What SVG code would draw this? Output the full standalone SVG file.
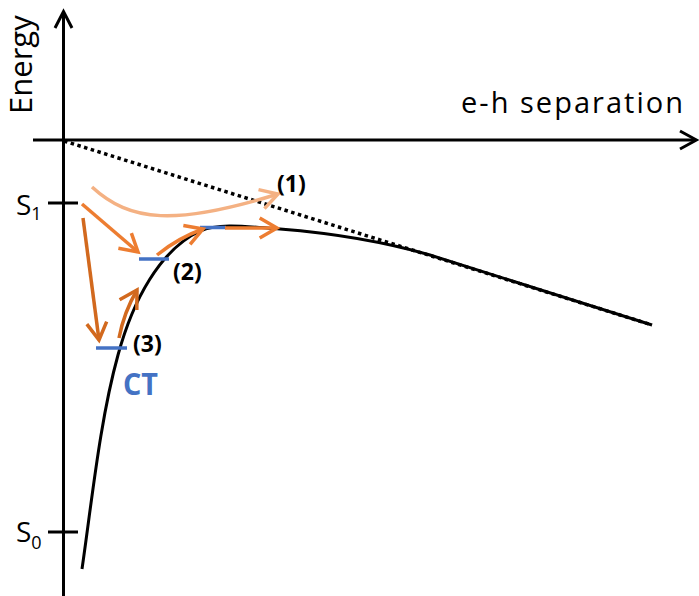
<svg xmlns="http://www.w3.org/2000/svg" width="699" height="596" viewBox="0 0 699 596">
<style>
.ax{stroke:#000;stroke-width:3;fill:none}
.lbl{font-family:"Open Sans","Liberation Sans",sans-serif;fill:#000}
.num{font-family:"Open Sans","Liberation Sans",sans-serif;font-weight:bold;font-size:23px;fill:#000}
.lvl{stroke:#4472C4;stroke-width:3.5;fill:none}
.arr{fill:none;stroke-width:3.5}
.peach{stroke:#F4B183}
.orange{stroke:#ED7D31}
.dark{stroke:#D2691E}
</style>
<defs>
<marker id="mPeach" markerUnits="userSpaceOnUse" orient="auto" markerWidth="30" markerHeight="30" refX="0" refY="0" overflow="visible">
<path d="M-17.3,-10 L0,0 L-17.3,10" fill="none" stroke="#F4B183" stroke-width="3.5"/>
</marker>
<marker id="mOrange" markerUnits="userSpaceOnUse" orient="auto" markerWidth="30" markerHeight="30" refX="0" refY="0" overflow="visible">
<path d="M-17.3,-10 L0,0 L-17.3,10" fill="none" stroke="#ED7D31" stroke-width="3.5"/>
</marker>
<marker id="mDark" markerUnits="userSpaceOnUse" orient="auto" markerWidth="30" markerHeight="30" refX="0" refY="0" overflow="visible">
<path d="M-17.3,-10 L0,0 L-17.3,10" fill="none" stroke="#D2691E" stroke-width="3.5"/>
</marker>
</defs>
<rect width="699" height="596" fill="#fff"/>
<g id="axes">
<path class="ax" d="M63.5,596 L63.5,12"/>
<path class="ax" d="M55,28 L63.5,11.5 L72,28"/>
<path class="ax" d="M33,140 L695,140"/>
<path class="ax" d="M680,131 L696.5,140 L680,149"/>
<path class="ax" d="M48,203 L78,203"/>
<path class="ax" d="M48,532 L78,532"/>
<text class="lbl" font-size="31" transform="translate(32,114) rotate(-90)">Energy</text>
<text class="lbl" font-size="29" x="461" y="113" textLength="222" lengthAdjust="spacing">e-h separation</text>
</g>
<g id="s1"><text class="lbl" font-size="28" x="16" y="215">S<tspan font-size="18" dy="5">1</tspan></text></g>
<g id="s0"><text class="lbl" font-size="28" x="16" y="542">S<tspan font-size="18" dy="7">0</tspan></text></g>
<g id="curves">
<path d="M82,569 C92,500 100,420 118,355 C133,300 160,250 200,231 C220,222.5 250,227 280,229 C330,233 385,242 430,255 L652,325" fill="none" stroke="#000" stroke-width="3"/>
<path d="M64,141 L652,325" fill="none" stroke="#000" stroke-width="3.5" stroke-dasharray="3.5 3.5"/>
</g>
<g id="levels">
<path class="lvl" d="M96,348 L127,348"/>
<path class="lvl" d="M139,259 L169,259"/>
<path class="lvl" d="M200,227.5 L226,227.5"/>
</g>
<g id="connectors">
<path class="arr peach" d="M92,187 C130,222 175,226 278,194" marker-end="url(#mPeach)"/>
<path class="arr orange" d="M82,204 L138,252" marker-end="url(#mOrange)"/>
<path class="arr dark" d="M83,218 L99,340" marker-end="url(#mDark)"/>
<path class="arr dark" d="M119,338 Q124,312 137,290" marker-end="url(#mDark)"/>
<path class="arr orange" d="M157,255 Q178,238 203,229" marker-end="url(#mOrange)"/>
<path class="arr orange" d="M225,228 L277,228" marker-end="url(#mOrange)"/>
</g>
<g id="label1"><text class="num" x="277" y="192">(1)</text></g>
<g id="label2"><text class="num" x="173" y="280">(2)</text></g>
<g id="label3"><text class="num" x="133" y="352">(3)</text></g>
<g id="ct"><text x="123" y="395" font-family="Open Sans, Liberation Sans, sans-serif" font-weight="bold" font-size="31" fill="#4472C4" textLength="35" lengthAdjust="spacingAndGlyphs">CT</text></g>
</svg>
